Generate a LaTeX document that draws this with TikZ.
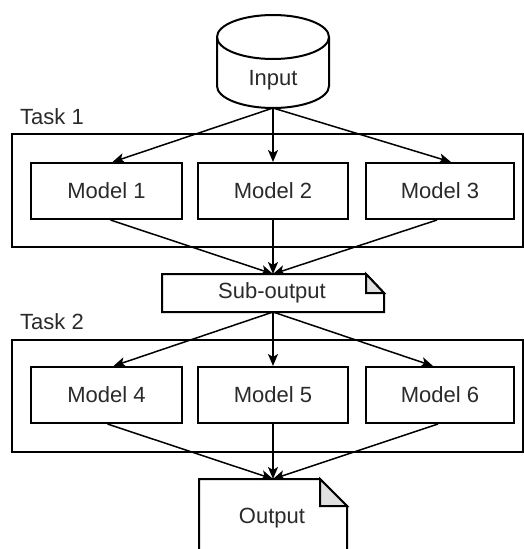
\documentclass[tikz,border=0pt]{standalone}
\usepackage{fontspec}
\setmainfont{Liberation Sans}
\usetikzlibrary{arrows.meta,calc}
\definecolor{txt}{HTML}{2A2A2A}
\definecolor{foldgray}{HTML}{E0E0E0}
\begin{document}
\begin{tikzpicture}[x=1pt,y=-1pt,
  font=\fontsize{22}{26}\selectfont, text=txt,
  box/.style={draw=black, line width=2pt, fill=white, minimum height=56pt, inner sep=0pt},
  group/.style={draw=black, line width=2pt},
  conn/.style={draw=black, line width=1.5pt},
  arr/.style={conn, -{Stealth[length=12pt,width=10pt,inset=3pt]}},
  lbl/.style={anchor=base west, inner sep=0pt}
]
\useasboundingbox (0,0) rectangle (524,549);
\clip (0,0) rectangle (524,549);

% groups
\draw[group] (12,134) rectangle (523,247);
\draw[group] (12,340) rectangle (523,452);
\node[lbl] (t1) at (20,124) {Task 1};
\node[lbl] (t2) at (20,329) {Task 2};

% cylinder
\draw[line width=2pt, fill=white] (217,37) -- (217,86) arc[start angle=180,end angle=0,x radius=56,y radius=22] -- (329,37) arc[start angle=0,end angle=-180,x radius=56,y radius=22] -- cycle;
\draw[line width=2pt] (217,37) arc[start angle=180,end angle=0,x radius=56,y radius=22];
\coordinate (in) at (273,108);
\node (inlbl) at (273,80) {Input};

% models
\node[box, minimum width=151pt] (m1) at (106.5,191) {Model 1};
\node[box, minimum width=150pt] (m2) at (273,191) {Model 2};
\node[box, minimum width=148pt] (m3) at (440,191) {Model 3};
\node[box, minimum width=151pt] (m4) at (106.5,395) {Model 4};
\node[box, minimum width=150pt] (m5) at (273,395) {Model 5};
\node[box, minimum width=148pt] (m6) at (440,395) {Model 6};

% sub-output document
\draw[line width=2pt, fill=white] (162,274) -- (366,274) -- (384,293) -- (384,312) -- (162,312) -- cycle;
\draw[line width=2pt, fill=foldgray] (366,274) -- (366,293) -- (384,293) -- cycle;
\coordinate (subtop) at (273,274);
\coordinate (subbot) at (273,312);
\node (sublbl) at (272,293) {Sub-output};

% output document
\draw[line width=2pt, fill=white] (199,479) -- (320,479) -- (347,506) -- (347,570) -- (199,570) -- cycle;
\draw[line width=2pt, fill=foldgray] (320,479) -- (320,506) -- (347,506) -- cycle;
\coordinate (outtop) at (273,479);
\node (outlbl) at (272,518) {Output};

% connectors task 1
\draw[arr] (in) -- ([xshift=6pt]m1.north);
\draw[arr] (in) -- (m2.north);
\draw[arr] (in) -- ([xshift=11pt]m3.north);
\draw[arr] ([xshift=4pt]m1.south) -- (subtop);
\draw[arr] (m2.south) -- (subtop);
\draw[arr] ([xshift=-3pt]m3.south) -- (subtop);

% connectors task 2
\draw[arr] (subbot) -- ([xshift=7pt]m4.north);
\draw[arr] (subbot) -- (m5.north);
\draw[arr] (subbot) -- ([xshift=-7pt]m6.north);
\draw[arr] ([xshift=1pt]m4.south) -- (outtop);
\draw[arr] (m5.south) -- (outtop);
\draw[arr] ([xshift=-2pt]m6.south) -- (outtop);
\end{tikzpicture}
\end{document}
